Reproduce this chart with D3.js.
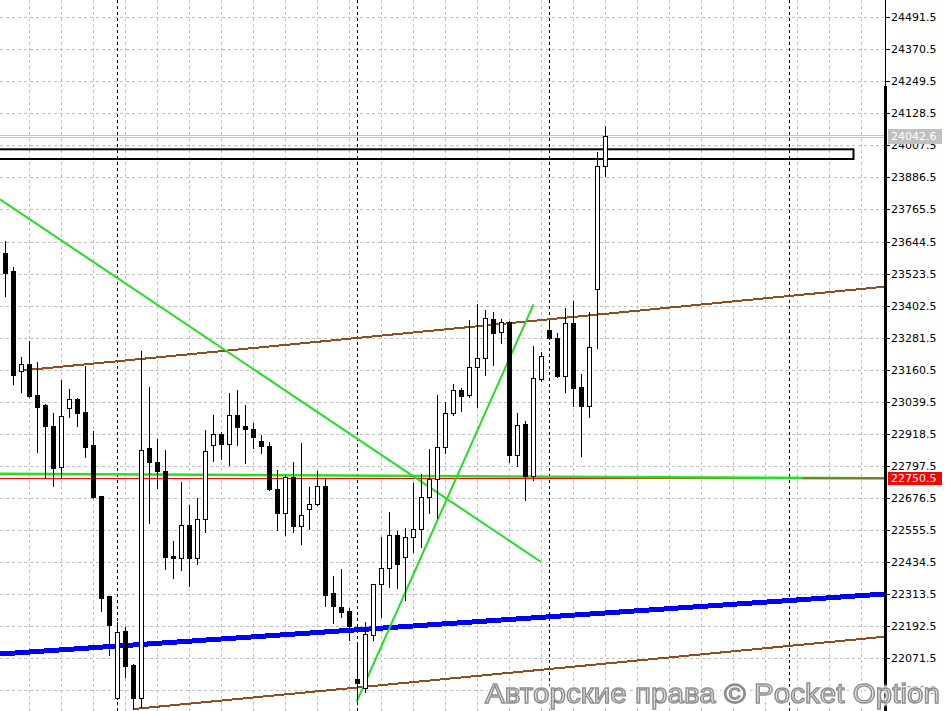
<!DOCTYPE html>
<html><head><meta charset="utf-8">
<script src="https://cdn.jsdelivr.net/npm/d3@7"></script>
<style>html,body{margin:0;padding:0;background:#fff;overflow:hidden}</style>
</head><body>
<svg id="c" width="951" height="711"></svg>
<script>
// ---- candle data (one value per candle) ----
const opens  = [23602.3,23533.2,23154.6,23181.0,23065.2,23027.4,22948.2,22792.3,23015.0,23048.9,
                22999.9,22876.5,22684.0,22306.6,21922.8,22174.5,22046.2,21920.5,22864.0,22811.2,
                22778.3,22457.5,22448.9,22574.5,22448.9,22596.1,22875.3,22916.8,22879.1,22988.6,
                22948.2,22936.8,22891.6,22873.0,22710.4,22621.0,22756.8,22571.9,22633.8,22652.7,
                22721.7,22316.8,22266.2,22251.1,21992.2,21959.4,22159.4,22350.7,22411.1,22535.7,
                22452.6,22528.1,22560.6,22681.3,22748.1,22867.8,22998.4,23084.0,23065.2,23172.0,
                23206.7,23350.9,23301.8,23341.8,22839.9,22955.7,22759.5,23126.7,23310.5,23279.2,
                23138.0,23335.8,23094.2,23024.8,23464.2,23928.4];
const highs  = [23646.5,23548.3,23208.6,23269.0,23190.8,23031.2,22997.2,23121.8,23087.8,23052.7,
                23174.6,22929.3,22685.9,22308.5,22207.3,22189.6,22051.1,23231.2,23095.3,22899.1,
                22857.6,22514.2,22735.7,22650.0,22675.3,22933.1,22989.7,22926.7,23073.8,23084.0,
                23027.4,22958.4,22914.2,22886.7,22782.1,22763.2,22811.2,22882.9,22716.8,22778.3,
                22750.0,22382.1,22407.3,22261.3,22121.7,22209.6,22353.8,22528.1,22623.6,22551.9,
                22564.4,22734.2,22767.0,22860.2,23064.0,23039.9,23105.5,23090.4,23348.2,23407.5,
                23386.0,23379.5,23351.2,23344.4,22999.1,22967.0,23250.1,23227.4,23348.2,23298.0,
                23392.4,23419.9,23143.4,23379.5,23981.2,24080.5];
const lows   = [23440.0,23106.7,23077.6,23058.7,22851.2,22753.0,22722.8,22754.6,22983.3,22949.3,
                22832.3,22675.3,22251.1,22083.9,21917.9,22002.0,21880.1,21888.8,22583.2,22715.3,
                22407.3,22373.4,22404.7,22345.4,22426.2,22547.0,22817.2,22822.5,22802.1,22877.6,
                22807.4,22864.0,22845.1,22706.6,22555.7,22536.8,22549.3,22501.7,22559.4,22650.0,
                22270.7,22205.8,22228.5,22140.5,21914.1,21944.3,22140.5,22228.5,22339.4,22335.6,
                22291.5,22473.8,22492.6,22618.7,22599.8,22845.1,22989.7,23005.9,23058.7,23018.7,
                23140.6,23179.5,23262.5,22812.3,22798.3,22668.9,22744.6,23118.0,23278.4,23134.2,
                23077.6,23023.7,22836.1,22983.3,23241.4,23891.8];
const closes = [23526.8,23141.8,23181.0,23062.5,23021.0,22949.3,22790.8,22984.8,23048.9,22998.4,
                22870.0,22681.3,22300.2,22197.1,22169.6,22043.5,21922.8,22857.6,22813.4,22779.5,
                22454.9,22451.1,22574.5,22448.9,22596.1,22852.7,22916.8,22881.4,22988.6,22945.5,
                22935.7,22905.5,22871.6,22710.4,22621.0,22756.8,22571.9,22612.3,22653.8,22721.7,
                22312.2,22270.0,22247.3,22193.4,21978.2,22163.2,22350.7,22411.1,22535.7,22426.2,
                22530.4,22560.6,22681.3,22748.1,22867.8,22996.1,23082.9,23062.5,23169.7,23205.9,
                23354.6,23301.0,23341.8,22838.7,22951.9,22759.5,23128.2,23211.6,23282.2,23136.9,
                23335.8,23090.4,23024.8,23245.2,23928.4,24042.6];

// ---- price axis ticks ----
const tickValues = [24491.5,24370.5,24249.5,24128.5,24007.5,23886.5,23765.5,23644.5,23523.5,23402.5,
                    23281.5,23160.5,23039.5,22918.5,22797.5,22676.5,22555.5,22434.5,22313.5,22192.5,
                    22071.5,21950.5];
const tickLabels = tickValues.map(v => v.toFixed(1));

// ---- drawn objects (bar index, price) ----
const greenDown  = [[-0.69, 23803.8], [66.9, 22436.0]];
const greenUp    = [[43.9, 21907.7], [66.0, 23407.5]];
const brownUpper = [[1.8, 23156.9], [109.9, 23474.0]];
const brownLower = [[16, 21880.1], [109.9, 22153.0]];
const blueLine   = [[-0.69, 22087.7], [109.9, 22314.1]];
const greenFlat  = [[-0.69, 22767.8], [109.9, 22750.8]];
const olivePart  = [[99.7, 22751.0], [109.9, 22750.6]];
const bidLevel   = 22750.5;
const askLevel   = 24042.6;
const boxIdx     = [-1, 106];
const boxPrices  = [23955.9, 23992.5];
const separators = [14, 44, 68, 98];
const gridIdx    = d3.range(3, 108, 4);
const watermark  = "Авторские права © Pocket Option";

const W = 951, H = 711, plotR = 884;
const x = d3.scaleLinear().domain([0, 75]).range([5.5, 605.5]);
const y = d3.scaleLinear().domain([21872.6, 24556.0]).range([711, 0]);

const svg = d3.select('#c');
svg.append('rect').attr('width', W).attr('height', H).attr('fill', '#fff');
const defs = svg.append('defs');
defs.append('clipPath').attr('id', 'clip').append('rect')
  .attr('x', 0).attr('y', 0).attr('width', plotR).attr('height', H);
const f = defs.append('filter').attr('id','glow').attr('x','-5%').attr('y','-30%').attr('width','110%').attr('height','160%');
f.append('feGaussianBlur').attr('stdDeviation', 1.2);

const plot = svg.append('g').attr('clip-path', 'url(#clip)');

// grid
const py = v => Math.round(y(v)) + 0.5;
plot.selectAll('.hg').data(tickValues).join('line')
  .attr('x1', 0).attr('x2', plotR).attr('y1', d => py(d)).attr('y2', d => py(d))
  .attr('stroke', '#c0c0c0').attr('stroke-dasharray', '3,3').attr('shape-rendering', 'crispEdges');
plot.selectAll('.vg').data(gridIdx).join('line')
  .attr('x1', d => x(d)).attr('x2', d => x(d)).attr('y1', 0).attr('y2', H)
  .attr('stroke', '#c0c0c0').attr('stroke-dasharray', '3,3').attr('shape-rendering', 'crispEdges');
plot.selectAll('.sep').data(separators).join('line')
  .attr('x1', d => x(d)).attr('x2', d => x(d)).attr('y1', 0).attr('y2', H)
  .attr('stroke', '#000').attr('stroke-dasharray', '3,3').attr('shape-rendering', 'crispEdges');

// ask line (grey double)
plot.append('line').attr('x1', 0).attr('x2', plotR).attr('y1', Math.round(y(askLevel)) - 0.5).attr('y2', Math.round(y(askLevel)) - 0.5)
  .attr('stroke', '#c4c4c4').attr('shape-rendering', 'crispEdges');
plot.append('line').attr('x1', 0).attr('x2', plotR).attr('y1', Math.round(y(askLevel)) + 1.5).attr('y2', Math.round(y(askLevel)) + 1.5)
  .attr('stroke', '#c4c4c4').attr('shape-rendering', 'crispEdges');

// rectangle object
plot.append('rect')
  .attr('x', x(boxIdx[0])).attr('y', y(boxPrices[1]))
  .attr('width', x(boxIdx[1]) - x(boxIdx[0])).attr('height', y(boxPrices[0]) - y(boxPrices[1]))
  .attr('fill', 'none').attr('stroke', '#000').attr('stroke-width', 2);

const seg = (pts, color, w, crisp) => plot.append('line')
  .attr('x1', x(pts[0][0])).attr('y1', y(pts[0][1]))
  .attr('x2', x(pts[1][0])).attr('y2', y(pts[1][1]))
  .attr('stroke', color).attr('stroke-width', w)
  .attr('shape-rendering', crisp ? 'crispEdges' : 'auto');

seg(blueLine, '#0000ff', 5, true);
seg(brownLower, '#8b4f22', 2, true);
seg(brownUpper, '#8b4f22', 2, true);
plot.append('line').attr('x1', 0).attr('x2', plotR).attr('y1', py(bidLevel)).attr('y2', py(bidLevel))
  .attr('stroke', '#ff0000').attr('shape-rendering', 'crispEdges');
seg(greenFlat, '#22e022', 2.5, false);
seg(olivePart, '#7a7a2a', 2, false);
seg(greenDown, '#22dd22', 2, false);
seg(greenUp, '#22dd22', 2, false);

// candles
const candles = opens.map((o, i) => ({i, o, h: highs[i], l: lows[i], c: closes[i]}));
candles.forEach(d => {
  const cx = Math.floor(x(d.i)) + 0.5;
  plot.append('line').attr('x1', cx).attr('x2', cx)
    .attr('y1', Math.round(y(d.h))).attr('y2', Math.round(y(d.l)) + 1)
    .attr('stroke', '#000').attr('shape-rendering', 'crispEdges');
  const top = Math.round(Math.min(y(d.o), y(d.c))), bot = Math.round(Math.max(y(d.o), y(d.c)));
  if (d.c >= d.o) {
    plot.append('rect').attr('x', cx - 2).attr('y', top + 0.5)
      .attr('width', 4).attr('height', Math.max(bot - top, 1))
      .attr('fill', '#fff').attr('stroke', '#000').attr('shape-rendering', 'crispEdges');
  } else {
    plot.append('rect').attr('x', cx - 2.5).attr('y', top)
      .attr('width', 5).attr('height', Math.max(bot - top + 1, 2))
      .attr('fill', '#000').attr('shape-rendering', 'crispEdges');
  }
});

// price axis
svg.append('line').attr('x1', 885.5).attr('x2', 885.5).attr('y1', 0).attr('y2', H)
  .attr('stroke', '#000').attr('shape-rendering', 'crispEdges');
svg.append('rect').attr('x', 884).attr('y', 86).attr('width', 3).attr('height', H - 86).attr('fill', '#000');
const ax = svg.append('g');
ax.selectAll('line').data(tickValues).join('line')
  .attr('x1', 886).attr('x2', 890).attr('y1', d => py(d)).attr('y2', d => py(d))
  .attr('stroke', '#000').attr('shape-rendering', 'crispEdges');
ax.selectAll('text').data(tickValues).join('text')
  .attr('x', 891).attr('y', d => py(d)).attr('dy', '0.36em')
  .attr('font-family', 'DejaVu Sans, Verdana, sans-serif').attr('font-size', 11).attr('fill', '#000')
  .text((d, i) => tickLabels[i]);

// price labels
const tag = (v, bg, h) => {
  const yy = y(v);
  svg.append('rect').attr('x', 888).attr('y', Math.round(yy - h / 2)).attr('width', 54).attr('height', h).attr('fill', bg);
  svg.append('text').attr('x', 891).attr('y', yy).attr('dy', '0.36em')
    .attr('font-family', 'DejaVu Sans, Verdana, sans-serif').attr('font-size', 11).attr('fill', '#fff')
    .text(v.toFixed(1));
};
tag(askLevel, '#c0c0c0', 15);
tag(bidLevel, '#ff0000', 13);

// watermark
const wm = svg.append('g').attr('font-family', 'Liberation Sans, Arial, sans-serif').attr('font-size', 28);
wm.append('text').attr('x', 485).attr('y', 703).text(watermark)
  .attr('textLength', 455).attr('lengthAdjust', 'spacingAndGlyphs')
  .attr('fill', '#fff').attr('stroke', '#fff').attr('stroke-width', 5).attr('filter', 'url(#glow)');
wm.append('text').attr('x', 485).attr('y', 703).text(watermark)
  .attr('textLength', 455).attr('lengthAdjust', 'spacingAndGlyphs')
  .attr('fill', '#e2e2e2').attr('stroke', '#858585').attr('stroke-width', 1.4).attr('opacity', 0.92);
</script>
</body></html>
